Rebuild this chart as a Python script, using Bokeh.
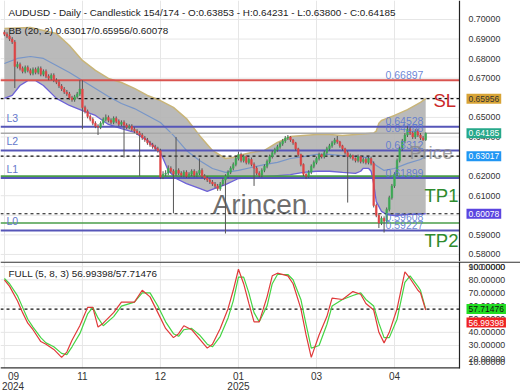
from bokeh.plotting import figure
from bokeh.layouts import column
from bokeh.models import (ColumnDataSource, FixedTicker, Label, Range1d)
from bokeh.core.properties import value
from bokeh.embed import file_html
from bokeh.resources import INLINE

# ---------------- data ----------------
opens = [0.6935,0.6925,0.6915,0.6900,0.6885,0.6760,0.6770,0.6750,0.6735,0.6755,
 0.6740,0.6725,0.6745,0.6730,0.6750,0.6720,0.6735,0.6710,0.6700,0.6715,
 0.6690,0.6680,0.6660,0.6645,0.6630,0.6620,0.6600,0.6590,0.6605,0.6620,
 0.6645,0.6550,0.6530,0.6505,0.6490,0.6470,0.6455,0.6450,0.6470,0.6490,
 0.6500,0.6485,0.6475,0.6495,0.6480,0.6465,0.6475,0.6460,0.6450,0.6455,
 0.6440,0.6430,0.6420,0.6410,0.6395,0.6385,0.6370,0.6360,0.6350,0.6340,
 0.6330,0.6195,0.6210,0.6215,0.6240,0.6225,0.6210,0.6230,0.6215,0.6205,
 0.6220,0.6200,0.6210,0.6225,0.6205,0.6215,0.6230,0.6200,0.6190,0.6180,
 0.6170,0.6160,0.6150,0.6135,0.6160,0.6180,0.6200,0.6220,0.6240,0.6260,
 0.6290,0.6310,0.6280,0.6300,0.6270,0.6285,0.6260,0.6240,0.6215,0.6205,
 0.6230,0.6250,0.6275,0.6300,0.6320,0.6335,0.6350,0.6365,0.6380,0.6395,
 0.6400,0.6385,0.6370,0.6340,0.6310,0.6260,0.6210,0.6200,0.6220,0.6250,
 0.6270,0.6290,0.6310,0.6300,0.6320,0.6340,0.6355,0.6370,0.6385,0.6375,
 0.6355,0.6340,0.6320,0.6300,0.6305,0.6290,0.6280,0.6300,0.6275,0.6285,
 0.6270,0.6290,0.6265,0.6050,0.6000,0.5960,0.5985,0.5970,0.6030,0.6090,
 0.6150,0.6210,0.6280,0.6340,0.6380,0.6410,0.6440,0.6420,0.6400,0.6430,
 0.6410,0.6395,0.63853]
highs = [0.6945,0.6935,0.6925,0.6910,0.6895,0.6785,0.6780,0.6760,0.6765,0.6765,
 0.6750,0.6755,0.6755,0.6760,0.6760,0.6745,0.6745,0.6720,0.6725,0.6725,
 0.6700,0.6690,0.6670,0.6655,0.6640,0.6630,0.6610,0.6615,0.6630,0.6690,
 0.6690,0.6560,0.6540,0.6515,0.6500,0.6480,0.6465,0.6480,0.6500,0.6515,
 0.6510,0.6495,0.6505,0.6505,0.6490,0.6485,0.6485,0.6470,0.6465,0.6465,
 0.6450,0.6440,0.6430,0.6420,0.6405,0.6395,0.6380,0.6370,0.6360,0.6350,
 0.6340,0.6225,0.6230,0.6255,0.6250,0.6235,0.6400,0.6240,0.6225,0.6230,
 0.6230,0.6220,0.6235,0.6235,0.6225,0.6290,0.6240,0.6210,0.6200,0.6190,
 0.6180,0.6170,0.6160,0.6170,0.6190,0.6210,0.6230,0.6250,0.6270,0.6300,
 0.6325,0.6320,0.6310,0.6305,0.6295,0.6295,0.6270,0.6250,0.6225,0.6240,
 0.6260,0.6285,0.6310,0.6330,0.6345,0.6360,0.6375,0.6390,0.6405,0.6410,
 0.6405,0.6390,0.6375,0.6345,0.6315,0.6265,0.6215,0.6230,0.6260,0.6280,
 0.6300,0.6320,0.6315,0.6330,0.6350,0.6365,0.6380,0.6395,0.6405,0.6380,
 0.6360,0.6345,0.6330,0.6315,0.6310,0.6295,0.6310,0.6305,0.6295,0.6295,
 0.6300,0.6300,0.6275,0.6060,0.6010,0.5995,0.5995,0.6040,0.6100,0.6160,
 0.6220,0.6290,0.6350,0.6390,0.6420,0.6455,0.6450,0.6430,0.6440,0.6440,
 0.6420,0.6405,0.64231]
lows = [0.6915,0.6905,0.6890,0.6875,0.6650,0.6750,0.6740,0.6725,0.6725,0.6730,
 0.6715,0.6715,0.6720,0.6720,0.6710,0.6710,0.6700,0.6690,0.6690,0.6680,
 0.6670,0.6650,0.6635,0.6620,0.6610,0.6590,0.6580,0.6580,0.6595,0.6610,
 0.6440,0.6520,0.6495,0.6480,0.6460,0.6445,0.6410,0.6440,0.6460,0.6480,
 0.6475,0.6465,0.6465,0.6470,0.6455,0.6455,0.6295,0.6440,0.6440,0.6430,
 0.6420,0.6410,0.6200,0.6385,0.6375,0.6360,0.6350,0.6340,0.6330,0.6320,
 0.6185,0.6185,0.6200,0.6205,0.6215,0.6010,0.6200,0.6205,0.6195,0.6195,
 0.6190,0.6190,0.6200,0.6195,0.6195,0.6205,0.6190,0.6180,0.6170,0.6160,
 0.6150,0.6140,0.6125,0.6125,0.6150,0.5907,0.6190,0.6210,0.6230,0.6250,
 0.6280,0.6270,0.6270,0.6260,0.6260,0.6250,0.6150,0.6205,0.6195,0.6195,
 0.6220,0.6240,0.6265,0.6290,0.6310,0.6325,0.6340,0.6355,0.6370,0.6385,
 0.6375,0.6360,0.6330,0.6300,0.6250,0.6200,0.6185,0.6190,0.6210,0.6240,
 0.6260,0.6280,0.6290,0.6290,0.6310,0.6330,0.6345,0.6360,0.6365,0.6345,
 0.6330,0.6310,0.6065,0.6290,0.6280,0.6270,0.6270,0.6265,0.6265,0.6260,
 0.6260,0.6255,0.6040,0.5990,0.5935,0.5950,0.5912,0.5960,0.6020,0.6080,
 0.6140,0.6200,0.6270,0.6330,0.6370,0.6400,0.6410,0.6390,0.6390,0.6400,
 0.6385,0.6380,0.6380]
closes = [0.6925,0.6915,0.6900,0.6885,0.6760,0.6770,0.6750,0.6735,0.6755,0.6740,
 0.6725,0.6745,0.6730,0.6750,0.6720,0.6735,0.6710,0.6700,0.6715,0.6690,
 0.6680,0.6660,0.6645,0.6630,0.6620,0.6600,0.6590,0.6605,0.6620,0.6645,
 0.6550,0.6530,0.6505,0.6490,0.6470,0.6455,0.6450,0.6470,0.6490,0.6500,
 0.6485,0.6475,0.6495,0.6480,0.6465,0.6475,0.6460,0.6450,0.6455,0.6440,
 0.6430,0.6420,0.6410,0.6395,0.6385,0.6370,0.6360,0.6350,0.6340,0.6330,
 0.6195,0.6210,0.6215,0.6240,0.6225,0.6210,0.6230,0.6215,0.6205,0.6220,
 0.6200,0.6210,0.6225,0.6205,0.6215,0.6230,0.6200,0.6190,0.6180,0.6170,
 0.6160,0.6150,0.6135,0.6160,0.6180,0.6200,0.6220,0.6240,0.6260,0.6290,
 0.6310,0.6280,0.6300,0.6270,0.6285,0.6260,0.6240,0.6215,0.6205,0.6230,
 0.6250,0.6275,0.6300,0.6320,0.6335,0.6350,0.6365,0.6380,0.6395,0.6400,
 0.6385,0.6370,0.6340,0.6310,0.6260,0.6210,0.6200,0.6220,0.6250,0.6270,
 0.6290,0.6310,0.6300,0.6320,0.6340,0.6355,0.6370,0.6385,0.6375,0.6355,
 0.6340,0.6320,0.6300,0.6305,0.6290,0.6280,0.6300,0.6275,0.6285,0.6270,
 0.6290,0.6265,0.6050,0.6000,0.5960,0.5985,0.5970,0.6030,0.6090,0.6150,
 0.6210,0.6280,0.6340,0.6380,0.6410,0.6440,0.6420,0.6400,0.6430,0.6410,
 0.6395,0.63853,0.64185]

bb_upper_x = [0,10,20,25,30,35,40,45,50,55,60,65,70,75,80,85,88,90,95,100,105,110,
              115,120,125,130,135,140,142,143,144,145,150,155,160,162]
bb_upper_y = [0.6954,0.6959,0.6928,0.6867,0.6791,0.6740,0.6699,0.6678,0.6648,0.6612,
              0.6586,0.6551,0.6494,0.6408,0.6331,0.6290,0.6295,0.6305,0.6321,0.6331,
              0.6372,0.6402,0.6408,0.6413,0.6413,0.6408,0.6413,0.6418,0.6420,0.6430,
              0.6470,0.6484,0.6510,0.6540,0.6577,0.65956]
bb_lower_x = [0,3,6,9,12,15,20,25,30,35,40,45,50,55,60,63,66,70,75,78,81,85,90,95,100,
              105,110,115,120,125,130,135,137,138,140,141,142,143,145,147,150,155,162]
bb_lower_y = [0.6597,0.6612,0.6663,0.6688,0.6688,0.6663,0.6597,0.6561,0.6535,0.6510,
              0.6464,0.6443,0.6423,0.6382,0.6321,0.6229,0.6188,0.6162,0.6137,0.6122,
              0.6137,0.6157,0.6188,0.6193,0.6198,0.6203,0.6208,0.6219,0.6225,0.6225,
              0.6219,0.6214,0.6225,0.6240,0.6240,0.6225,0.6160,0.6070,0.6020,0.6004,
              0.5999,0.6004,0.60078]
bb_mid_x = [0,5,10,15,20,25,30,35,40,45,50,55,60,65,70,75,80,85,90,95,100,105,110,
            115,120,125,130,135,140,143,146,150,155,160,162]
bb_mid_y = [0.6775,0.6801,0.6811,0.6801,0.6765,0.6729,0.6688,0.6648,0.6607,0.6571,
            0.6545,0.6510,0.6474,0.6408,0.6331,0.6280,0.6239,0.6219,0.6229,0.6244,
            0.6259,0.6270,0.6290,0.6300,0.6311,0.6311,0.6305,0.6300,0.6295,0.6254,
            0.6229,0.6239,0.6265,0.6285,0.63017]

stoch_x = [0,2,5,7,9,11,14,16,19,22,24,26,29,32,34,36,38,42,45,50,53,56,59,62,65,67,
           69,72,75,78,80,83,86,88,90,92,94,96,98,101,103,105,109,111,114,116,118,121,
           124,126,130,134,137,139,142,144,146,148,151,154,156,159,160,162]
stoch_k = [80,75,64,55,47,42,33,31,27,21,25,34,45,59,59,44,47,55,63,63,72,67,55,43,36,
           39,45,42,35,28,31,43,58,72,88,77,62,48,48,67,83,85,83,77,58,38,21,38,52,66,
           65,71,69,62,57,40,32,40,58,86,81,72,70,56.99398]
stoch_d = [81,77,68,59,50,44,36,32,29,24,23,29,39,54,59,51,45,52,60,63,70,70,60,48,39,
           37,42,43,38,31,29,37,51,64,82,82,70,55,48,60,77,84,84,80,65,46,28,30,46,60,
           65,68,70,65,60,47,36,36,50,78,83,75,72,57.71476]

price_ticks = [0.58,0.59,0.60,0.61,0.62,0.63,0.64,0.65,0.66,0.67,0.68,0.69,0.70]
stoch_ticks = [20,30,40,50,60,70,80,90]
month_ticks = [0,30,60,90,120,150]
month_labels = ["09","11","12","01","03","04"]
year_ticks = [0,90]
year_labels = ["2024","2025"]

sl_level = 0.66897
tp_levels = [0.6200, 0.59608]
l_levels = [0.64528, 0.63312, 0.61899, 0.59227]
l_names = ["L3", "L2", "L1", "L0"]
level_texts = ["0.66897", "0.64528", "0.64188", "0.63312", "0.61899", "0.59608", "0.59227"]
level_vals = [0.66897, 0.64528, 0.64188, 0.63312, 0.61899, 0.59608, 0.59227]
bb_now = [0.63017, 0.65956, 0.60078]
last_close = 0.64185

# ---------------- layout constants (pixels) ----------------
FONT = "Liberation Sans"
W = 520
FW = 459          # chart area left of the price axis
FH = 261          # price panel height
LFH = 107         # stochastic panel height
AXH = 22          # month label strip
XS, XE = -1.5, 175.0
XE2 = XS + W * (XE - XS) / FW
YS, YE = 0.5764, 0.7097
LYS, LYE = 12.5, 93.9
LYS2 = LYE - (LFH + AXH) * (LYE - LYS) / LFH

def mx(px):
    return XS + px * (XE - XS) / FW

def my(py):
    return YE - py * (YE - YS) / FH

def dp(py):
    return py * (YE - YS) / FH

def ly(py):
    return LYE - py * (LYE - LYS) / LFH

x_range = Range1d(XS, XE2)
GRID = "#e6e6e6"

def hlines(fig, vals, color, width, dash="solid"):
    fig.segment(x0=[XS] * len(vals), y0=vals, x1=[XE] * len(vals), y1=vals,
                line_color=color, line_width=width, line_dash=dash)

def box(fig, yv, text, bg, fg, size="8.5px"):
    fig.add_layout(Label(x=mx(466), y=yv, text=text, text_font=FONT,
                         text_font_size=size, text_color=fg,
                         background_fill_color=bg, padding=2,
                         text_baseline="middle"))

# ---------------- price panel ----------------
p = figure(width=W, height=FH, x_range=x_range, y_range=Range1d(YS, YE),
           output_backend="svg", toolbar_location=None,
           x_axis_location=None, y_axis_location=None,
           min_border_left=0, min_border_right=0,
           min_border_top=0, min_border_bottom=0)
p.outline_line_color = None
p.xgrid.ticker = FixedTicker(ticks=month_ticks)
p.xgrid.grid_line_color = GRID
p.ygrid.visible = False
hlines(p, price_ticks, GRID, 1)

# Bollinger band area
band_x = bb_upper_x + bb_lower_x[::-1]
band_y = bb_upper_y + bb_lower_y[::-1]
p.patch(band_x, band_y, fill_color="#b3b3b3", fill_alpha=0.9, line_color=None)
p.line(bb_upper_x, bb_upper_y, line_color="#c9b578", line_width=1.5)
p.line(bb_lower_x, bb_lower_y, line_color="#6d62d8", line_width=1.3)
p.line(bb_mid_x, bb_mid_y, line_color="#7896c8", line_width=1.2)

# watermark
p.text(x=[mx(212)], y=[my(204)], text=["Arincen"], text_font=value(FONT),
       text_font_size="28px", text_color="#555555", text_alpha=0.85,
       text_baseline="alphabetic")

# level lines
hlines(p, [sl_level], "#d9534f", 2)
hlines(p, l_levels, "#5656b8", 2)
hlines(p, tp_levels, "#4a9e4a", 1.6)
hlines(p, [last_close], "#a8a8a8", 1.5)
hlines(p, bb_now, "#111111", 1.2, "3 3")

# candles
idx = list(range(len(closes)))
cols = ["#3caa55" if c >= o else "#e04545" for o, c in zip(opens, closes)]
src = ColumnDataSource(dict(x=idx, o=opens, h=highs, l=lows, c=closes, col=cols))
p.segment(x0="x", y0="h", x1="x", y1="l", source=src, line_color="#555", line_width=1)
p.vbar(x="x", top="o", bottom="c", width=0.65, source=src, fill_color="col",
       line_color="col", line_width=0.5)

# price axis (line + labels)
p.segment(x0=[XE], y0=[YS], x1=[XE], y1=[YE], line_color="#222", line_width=1.2)
p.text(x=[mx(468)] * len(price_ticks), y=price_ticks,
       text=["%.5f" % t for t in price_ticks], text_font=value(FONT),
       text_font_size="8.8px", text_color="#333", text_baseline="middle")

# texts
for v, name in zip(l_levels, l_names):
    p.add_layout(Label(x=mx(6), y=v + dp(3), text=name, text_font=FONT,
                       text_font_size="10.5px", text_color="#6478cc",
                       text_baseline="bottom"))
for v, t in zip(level_vals, level_texts):
    p.add_layout(Label(x=mx(385), y=v + dp(1.5), text=t, text_font=FONT,
                       text_font_size="10.5px", text_color="#5b78d2", text_alpha=0.9,
                       text_baseline="bottom"))
p.add_layout(Label(x=mx(409), y=my(152), text="Price", text_font=FONT,
                   text_font_size="19px", text_color="#888888", text_alpha=0.8,
                   text_baseline="alphabetic"))
p.add_layout(Label(x=mx(433), y=my(100), text="SL", text_font=FONT,
                   text_font_size="18.5px", text_color="#cc2a2a",
                   text_baseline="alphabetic"))
p.add_layout(Label(x=mx(424), y=my(195), text="TP1", text_font=FONT,
                   text_font_size="18.5px", text_color="#2e8b2e",
                   text_baseline="alphabetic"))
p.add_layout(Label(x=mx(424), y=my(240), text="TP2", text_font=FONT,
                   text_font_size="18.5px", text_color="#2e8b2e",
                   text_baseline="alphabetic"))
p.add_layout(Label(x=mx(8), y=my(12), text="AUDUSD - Daily - Candlestick    154/174 - O:0.63853 - H:0.64231 - L:0.63800 - C:0.64185",
                   text_font=FONT, text_font_size="9.9px", text_color="#222",
                   text_baseline="middle"))
p.add_layout(Label(x=mx(8), y=my(30), text="BB (20, 2)    0.63017/0.65956/0.60078",
                   text_font=FONT, text_font_size="9.9px", text_color="#222",
                   text_baseline="middle"))

box(p, bb_now[1], "0.65956", "#d8a436", "#333")
box(p, last_close, "0.64185", "#26a88a", "white")
box(p, bb_now[0], "0.63017", "#2196f3", "white")
box(p, bb_now[2], "0.60078", "#5b45e0", "white")

# ---------------- stochastic panel ----------------
q = figure(width=W, height=LFH + AXH, x_range=x_range, y_range=Range1d(LYS2, LYE),
           output_backend="svg", toolbar_location=None,
           x_axis_location=None, y_axis_location=None,
           min_border_left=0, min_border_right=0, min_border_top=0,
           min_border_bottom=0)
q.outline_line_color = None
q.xgrid.visible = False
q.ygrid.visible = False
hlines(q, stoch_ticks, GRID, 1)
q.segment(x0=month_ticks, y0=[LYS] * len(month_ticks), x1=month_ticks,
          y1=[LYE] * len(month_ticks), line_color=GRID, line_width=1)

# panel frame lines
q.segment(x0=[XS], y0=[ly(0.6)], x1=[XE2], y1=[ly(0.6)], line_color="#333", line_width=1.2)
q.segment(x0=[XS], y0=[ly(LFH - 0.6)], x1=[XE], y1=[ly(LFH - 0.6)], line_color="#333", line_width=1.2)
q.segment(x0=[XE], y0=[LYS], x1=[XE], y1=[LYE], line_color="#222", line_width=1.2)

hlines(q, [stoch_d[-1]], "#111111", 1.2, "3 3")
q.line(stoch_x, stoch_d, line_color="#44d444", line_width=1.2)
q.line(stoch_x, stoch_k, line_color="#e03a3a", line_width=1.2)

q.text(x=[mx(468)] * len(stoch_ticks), y=stoch_ticks,
       text=["%.5f" % t for t in stoch_ticks], text_font=value(FONT),
       text_font_size="8.8px", text_color="#333", text_baseline="middle")
q.text(x=[mx(468), mx(468)], y=[ly(5.5), ly(100)], text=["100.0000", "10.00000"],
       text_font=value(FONT), text_font_size="8.8px", text_color="#333",
       text_baseline="middle")

# month labels under the panel
mpos = [mx(13)] + month_ticks[1:]
q.text(x=mpos, y=[ly(LFH + 7)] * len(mpos), text=month_labels,
       text_font=value(FONT), text_font_size="10px", text_color="#333",
       text_align="center", text_baseline="middle")
ypos = [mx(12.5), year_ticks[1]]
q.text(x=ypos, y=[ly(LFH + 17)] * len(ypos), text=year_labels,
       text_font=value(FONT), text_font_size="10px", text_color="#333",
       text_align="center", text_baseline="middle")

q.add_layout(Label(x=mx(8), y=ly(12), text="FULL (5, 8, 3)    56.99398/57.71476",
                   text_font=FONT, text_font_size="9.9px", text_color="#222",
                   text_baseline="middle"))
box(q, stoch_d[-1], "57.71476", "#22dd22", "#111")
box(q, ly(61), "56.99398", "#ee2222", "white")

layout = column(p, q, spacing=0)
open("out.html", "w").write(file_html(layout, INLINE))
